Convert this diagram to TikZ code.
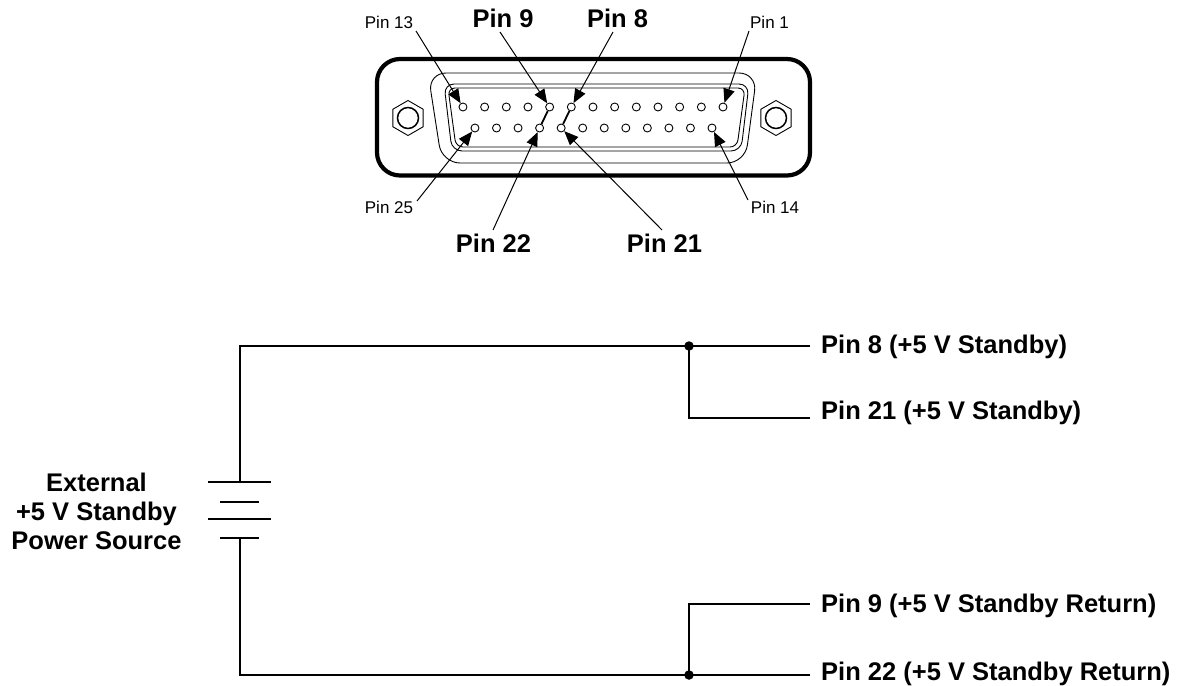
\documentclass[tikz,border=0pt]{standalone}
\usepackage{fontspec}
\setmainfont{Liberation Sans}
\usetikzlibrary{arrows.meta}
\begin{document}
\begin{tikzpicture}[x=1pt,y=-1pt,
  pin/.style={circle,draw,fill=white,minimum size=8pt,inner sep=0pt,line width=0.9pt},
  small/.style={font=\fontsize{17}{20}\selectfont,inner sep=0pt,anchor=base},
  big/.style={font=\fontsize{25.5}{30}\selectfont\bfseries,inner sep=0pt,anchor=base},
  callout/.style={line width=1pt,-{Triangle[length=14pt,width=11.5pt]}},
  wire/.style={line width=2.7pt},
  plate/.style={line width=2.8pt},
  jdot/.style={circle,fill,minimum size=9.5pt,inner sep=0pt},
  thin/.style={line width=0.9pt}]
\useasboundingbox (0,0) rectangle (1182,685);

% ---------- connector shell ----------
\draw[line width=4.2pt,rounded corners=23pt] (377,59) rectangle (810,175.5);
\draw[thin,rounded corners=18pt] (428,73) -- (757,73) -- (745,163) -- (442,163) -- cycle;
\draw[thin,rounded corners=10pt] (444,84) -- (749,84) -- (741,151) -- (452,151) -- cycle;
\draw[thin,rounded corners=7pt] (448,88) -- (745,88) -- (737,147) -- (456,147) -- cycle;

% hex nuts
\foreach \cx in {408,776}{
  \draw[thin,shift={(\cx,118)}] (90:17.5) -- (150:17.5) -- (210:17.5) -- (270:17.5) -- (330:17.5) -- (30:17.5) -- cycle;
  \draw[line width=1.5pt] (\cx,118) circle[radius=10.5];
}

% pins
\foreach \k in {1,...,13}{
  \node[pin] (p\k) at ({723-(\k-1)*21.67},107) {};
}
\foreach \j in {0,...,11}{
  \pgfmathtruncatemacro\n{14+\j}
  \node[pin] (p\n) at ({712-\j*21.55},128) {};
}
\draw[line width=1.8pt] (p9) -- (p22);
\draw[line width=1.8pt] (p8) -- (p21);

% pin labels
\node[small] (t13) at (389,29) {Pin 13};
\node[small] (t1)  at (769.5,29) {Pin 1};
\node[small] (t25) at (389,213) {Pin 25};
\node[small] (t14) at (775,213) {Pin 14};
\node[big] (t9)  at (503,28) {Pin 9};
\node[big] (t8)  at (617.5,28) {Pin 8};
\node[big] (t22) at (493.5,252) {Pin 22};
\node[big] (t21) at (664.5,252) {Pin 21};

\coordinate (s13) at (416,31);
\coordinate (s9)  at (500,32);
\coordinate (s8)  at (613,32);
\coordinate (s1)  at (749,31);
\coordinate (s25) at (417,201);
\coordinate (s22) at (493,230);
\coordinate (s21) at (662,230);
\coordinate (s14) at (748,200);

\draw[callout] (s13) -- (p13);
\draw[callout] (s9)  -- (p9);
\draw[callout] (s8)  -- (p8);
\draw[callout] (s1)  -- (p1);
\draw[callout] (s25) -- (p25);
\draw[callout] (s22) -- (p22);
\draw[callout] (s21) -- (p21);
\draw[callout] (s14) -- (p14);

% ---------- circuit ----------
% battery plates
\draw[plate] (208,482) -- (271,482);
\draw[plate] (220,502) -- (259,502);
\draw[plate] (208,519) -- (271,519);
\draw[plate] (220,538) -- (259,538);
\coordinate (bt) at (240,482);
\coordinate (bb) at (240,538);

\node[big] (src1) at (96.5,491.5) {External};
\node[big] (src2) at (96.5,520.5) {+5 V Standby};
\node[big] (src3) at (96.5,549) {Power Source};

\node[jdot] (j1) at (689,346) {};
\node[jdot] (j2) at (689,675) {};
\coordinate (e8)  at (810,346);
\coordinate (e21) at (810,418);
\coordinate (e9)  at (810,604);
\coordinate (e22) at (810,675);

\draw[wire] (bt) -- (240,346) -- (e8);
\draw[wire] (j1.center) -- (689,418) -- (e21);
\draw[wire] (bb) -- (240,675) -- (e22);
\draw[wire] (j2.center) -- (689,604) -- (e9);

\node[big,anchor=base west] (l8)  at (821,353) {Pin 8 (+5 V Standby)};
\node[big,anchor=base west] (l21) at (821,419) {Pin 21 (+5 V Standby)};
\node[big,anchor=base west] (l9)  at (821,612) {Pin 9 (+5 V Standby Return)};
\node[big,anchor=base west] (l22) at (821,680) {Pin 22 (+5 V Standby Return)};
\end{tikzpicture}
\end{document}
